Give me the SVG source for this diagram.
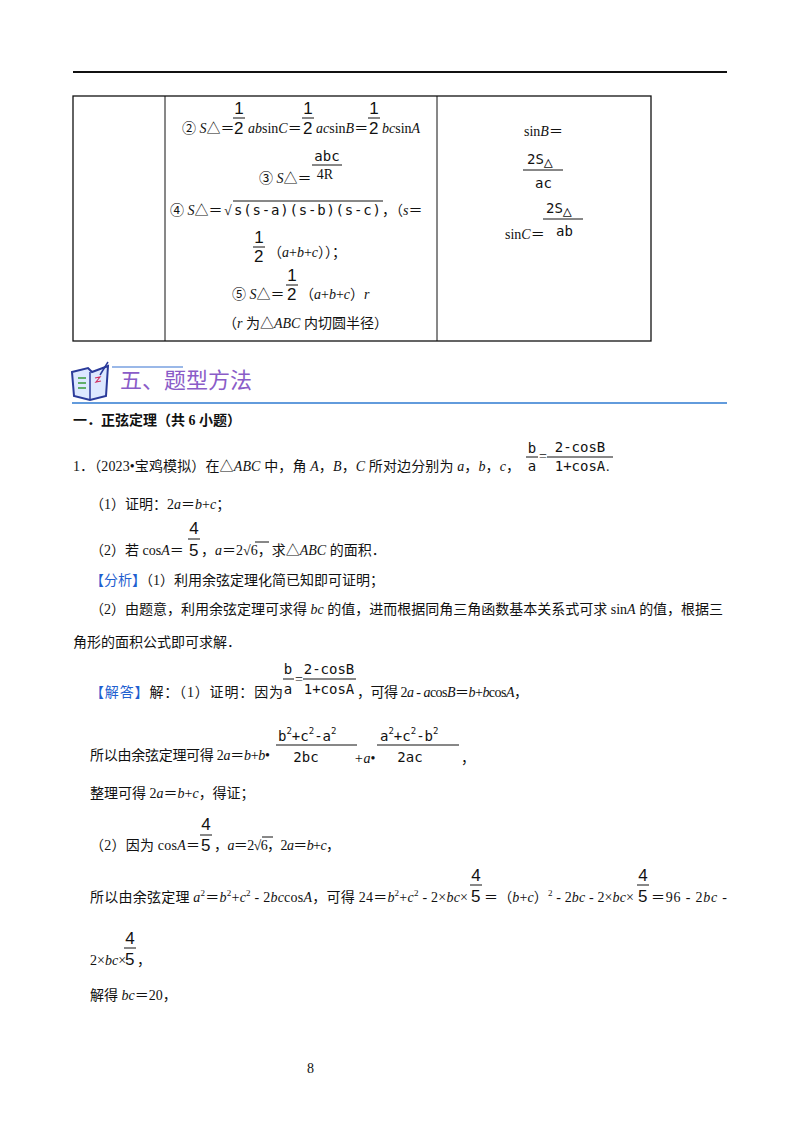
<svg xmlns="http://www.w3.org/2000/svg" width="800" height="1132" viewBox="0 0 800 1132">
<style>
text{font-family:"Liberation Serif","Noto Sans CJK SC",serif;font-size:14px;fill:#111}
.m{font-family:"DejaVu Sans Mono","Liberation Mono",monospace;font-size:14px}
.f{font-family:"Liberation Sans",sans-serif;font-size:17px}
.i{font-style:italic}
.c{text-anchor:middle}
.ln{stroke:#111;stroke-width:1;fill:none}
.blue{fill:#1f5fd0}
.sup{font-size:9px}
</style>
<rect width="800" height="1132" fill="#fff"/>
<line x1="73" y1="72" x2="727" y2="72" stroke="#111" stroke-width="2"/>
<g id="table">
<rect x="73" y="96" width="578" height="245" fill="none" stroke="#111" stroke-width="1.3"/>
<line x1="165" y1="96" x2="165" y2="341" class="ln" stroke-width="1.3"/>
<line x1="437" y1="96" x2="437" y2="341" class="ln" stroke-width="1.3"/>
</g>
<g id="left-cell">
<text x="182" y="133">② <tspan class="i">S</tspan>△＝</text>
<text class="f c" x="239" y="114">1</text><line x1="233" y1="118" x2="245" y2="118" class="ln"/><text class="f" x="234" y="134">2</text>
<text x="248" y="133"><tspan class="i">ab</tspan>sin<tspan class="i">C</tspan>＝</text>
<text class="f c" x="308" y="114">1</text><line x1="302" y1="118" x2="314" y2="118" class="ln"/><text class="f" x="303" y="134">2</text>
<text x="316" y="133"><tspan class="i">ac</tspan>sin<tspan class="i">B</tspan>＝</text>
<text class="f c" x="374" y="114">1</text><line x1="368" y1="118" x2="380" y2="118" class="ln"/><text class="f" x="369" y="134">2</text>
<text x="382" y="133"><tspan class="i">bc</tspan>sin<tspan class="i">A</tspan></text>
<text x="259" y="183">③ <tspan class="i">S</tspan>△＝</text>
<text class="m c" x="327" y="161">abc</text><line x1="312" y1="165" x2="342" y2="165" class="ln"/><text class="c" x="325" y="179">4R</text>
<text x="170" y="215">④ <tspan class="i">S</tspan>△＝</text>
<text x="224" y="215">√</text><line x1="233" y1="201" x2="383" y2="201" class="ln"/>
<text class="m" x="234" y="215" textLength="147">s(s-a)(s-b)(s-c)</text>
<text x="382" y="215">，（<tspan class="i">s</tspan>＝</text>
<text class="f c" x="259" y="243">1</text><line x1="253" y1="247" x2="265" y2="247" class="ln"/><text class="f" x="254" y="262">2</text>
<text x="268" y="257">（<tspan class="i">a</tspan>+<tspan class="i">b</tspan>+<tspan class="i">c</tspan>））；</text>
<text x="232" y="299">⑤ <tspan class="i">S</tspan>△＝</text>
<text class="f c" x="292" y="281">1</text><line x1="286" y1="285" x2="298" y2="285" class="ln"/><text class="f" x="287" y="300">2</text>
<text x="300" y="299">（<tspan class="i">a</tspan>+<tspan class="i">b</tspan>+<tspan class="i">c</tspan>）<tspan class="i">r</tspan></text>
<text x="223" y="328">（<tspan class="i">r</tspan> 为△<tspan class="i">ABC</tspan> 内切圆半径）</text>
</g>
<g id="right-cell">
<text x="524" y="136">sin<tspan class="i">B</tspan>＝</text>
<text class="m" x="527" y="164">2S<tspan font-size="15" dy="3">△</tspan></text>
<line x1="523" y1="170" x2="563" y2="170" class="ln"/>
<text class="m" x="535" y="188">ac</text>
<text class="m" x="546" y="213">2S<tspan font-size="15" dy="3">△</tspan></text>
<line x1="543" y1="219" x2="583" y2="219" class="ln"/>
<text x="505" y="239">sin<tspan class="i">C</tspan>＝</text>
<text class="m" x="556" y="236">ab</text>
</g>
<g id="heading">
<path d="M72 372 L88 368 L92 372 L108 366 L106 396 L90 400 L74 396 Z" fill="#dde8ff" stroke="#2a3a9a" stroke-width="2"/>
<line x1="90" y1="372" x2="90" y2="400" stroke="#2a3a9a" stroke-width="1.5"/>
<path d="M78 378 h8 M78 383 h8 M78 388 h8" stroke="#3a9a3a" stroke-width="1.5"/>
<path d="M95 378 l5 -1 l-4 5 l5 -1" stroke="#d03060" fill="none" stroke-width="1.2"/>
<line x1="100" y1="375" x2="108" y2="362" stroke="#2a3a9a" stroke-width="1.5"/>
<line x1="112" y1="367" x2="183" y2="367" stroke="#9ab8e8" stroke-width="2"/>
<text x="120" y="388" style="font-size:22px;fill:#8a5cc8">五、题型方法</text>
<line x1="72" y1="403" x2="727" y2="403" stroke="#2e7ad0" stroke-width="1.5"/>
</g>
<g id="body">
<text x="73" y="425" font-weight="bold">一．正弦定理（共 6 小题）</text>
<text x="73" y="471" textLength="447">1．（2023•宝鸡模拟）在△<tspan class="i">ABC</tspan> 中，角 <tspan class="i">A</tspan>，<tspan class="i">B</tspan>，<tspan class="i">C</tspan> 所对边分别为 <tspan class="i">a</tspan>，<tspan class="i">b</tspan>，<tspan class="i">c</tspan>，</text>
<text class="m c" x="532" y="453">b</text><line x1="526" y1="457" x2="538" y2="457" class="ln"/><text class="m c" x="532" y="471">a</text>
<text x="539" y="461">=</text>
<text class="m c" x="580" y="452">2-cosB</text><line x1="547" y1="457" x2="613" y2="457" class="ln"/><text class="m c" x="580" y="471">1+cosA</text>
<text x="606" y="471">.</text>
<text x="90" y="509">（1）证明：2<tspan class="i">a</tspan>＝<tspan class="i">b</tspan>+<tspan class="i">c</tspan>；</text>
<text x="90" y="555">（2）若 cos<tspan class="i">A</tspan>＝</text>
<text class="f c" x="194" y="534">4</text><line x1="188" y1="539" x2="200" y2="539" class="ln"/><text class="f" x="189" y="556">5</text>
<text x="201" y="555">，<tspan class="i">a</tspan>＝2√6，求△<tspan class="i">ABC</tspan> 的面积．</text>
<line x1="255" y1="542" x2="269" y2="542" class="ln"/>
<text x="90" y="585"><tspan class="blue">【分析】</tspan>（1）利用余弦定理化简已知即可证明；</text>
<text x="90" y="614">（2）由题意，利用余弦定理可求得 <tspan class="i">bc</tspan> 的值，进而根据同角三角函数基本关系式可求 sin<tspan class="i">A</tspan> 的值，根据三</text>
<text x="73" y="647">角形的面积公式即可求解．</text>
<text x="90" y="697" textLength="193"><tspan class="blue">【解答】</tspan>解：（1）证明：因为</text>
<text class="m c" x="288" y="674">b</text><line x1="283" y1="679" x2="294" y2="679" class="ln"/><text class="m c" x="288" y="694">a</text>
<text x="295" y="684">=</text>
<text class="m c" x="329" y="674">2-cosB</text><line x1="303" y1="679" x2="356" y2="679" class="ln"/><text class="m c" x="329" y="694">1+cosA</text>
<text x="357" y="697" textLength="171">，可得 2<tspan class="i">a</tspan> - <tspan class="i">a</tspan>cos<tspan class="i">B</tspan>＝<tspan class="i">b</tspan>+<tspan class="i">b</tspan>cos<tspan class="i">A</tspan>，</text>
<text x="90" y="760" textLength="180">所以由余弦定理可得 2<tspan class="i">a</tspan>＝<tspan class="i">b</tspan>+<tspan class="i">b</tspan>•</text>
<text class="m" x="278" y="741">b<tspan class="sup" dy="-7">2</tspan><tspan dy="7">+c</tspan><tspan class="sup" dy="-7">2</tspan><tspan dy="7">-a</tspan><tspan class="sup" dy="-7">2</tspan></text>
<line x1="276" y1="745" x2="357" y2="745" class="ln"/>
<text class="m c" x="306" y="762">2bc</text>
<text x="354" y="763"><tspan class="i">+a</tspan>•</text>
<text class="m" x="380" y="741">a<tspan class="sup" dy="-7">2</tspan><tspan dy="7">+c</tspan><tspan class="sup" dy="-7">2</tspan><tspan dy="7">-b</tspan><tspan class="sup" dy="-7">2</tspan></text>
<line x1="377" y1="745" x2="459" y2="745" class="ln"/>
<text class="m c" x="410" y="762">2ac</text>
<text x="461" y="763">，</text>
<text x="90" y="798">整理可得 2<tspan class="i">a</tspan>＝<tspan class="i">b</tspan>+<tspan class="i">c</tspan>，得证；</text>
<text x="90" y="850" textLength="110">（2）因为 cos<tspan class="i">A</tspan>＝</text>
<text class="f c" x="206" y="830">4</text><line x1="200" y1="835" x2="212" y2="835" class="ln"/><text class="f" x="201" y="851">5</text>
<text x="214" y="850" textLength="126">，<tspan class="i">a</tspan>＝2√6，2<tspan class="i">a</tspan>＝<tspan class="i">b</tspan>+<tspan class="i">c</tspan>，</text>
<line x1="262" y1="837" x2="273" y2="837" class="ln"/>
<text x="90" y="902" textLength="378">所以由余弦定理 <tspan class="i">a</tspan><tspan class="sup" dy="-6">2</tspan><tspan dy="6">＝</tspan><tspan class="i">b</tspan><tspan class="sup" dy="-6">2</tspan><tspan dy="6">+</tspan><tspan class="i">c</tspan><tspan class="sup" dy="-6">2</tspan><tspan dy="6"> - 2</tspan><tspan class="i">bc</tspan>cos<tspan class="i">A</tspan>，可得 24＝<tspan class="i">b</tspan><tspan class="sup" dy="-6">2</tspan><tspan dy="6">+</tspan><tspan class="i">c</tspan><tspan class="sup" dy="-6">2</tspan><tspan dy="6"> - 2×</tspan><tspan class="i">bc</tspan>×</text>
<text class="f c" x="476" y="881">4</text><line x1="470" y1="885" x2="482" y2="885" class="ln"/><text class="f" x="471" y="902">5</text>
<text x="484" y="902" textLength="150">＝（<tspan class="i">b</tspan>+<tspan class="i">c</tspan>）<tspan class="sup" dy="-6">2</tspan><tspan dy="6"> - 2</tspan><tspan class="i">bc</tspan> - 2×<tspan class="i">bc</tspan>×</text>
<text class="f c" x="643" y="881">4</text><line x1="637" y1="885" x2="649" y2="885" class="ln"/><text class="f" x="638" y="902">5</text>
<text x="651" y="902" textLength="76">＝96 - 2<tspan class="i">bc</tspan> -</text>
<text x="90" y="965">2×<tspan class="i">bc</tspan>×</text>
<text class="f c" x="130" y="944">4</text><line x1="124" y1="948" x2="136" y2="948" class="ln"/><text class="f" x="125" y="965">5</text>
<text x="137" y="965">，</text>
<text x="90" y="1000">解得 <tspan class="i">bc</tspan>＝20，</text>
<text x="307" y="1073" font-size="11">8</text>
</g>
</svg>
